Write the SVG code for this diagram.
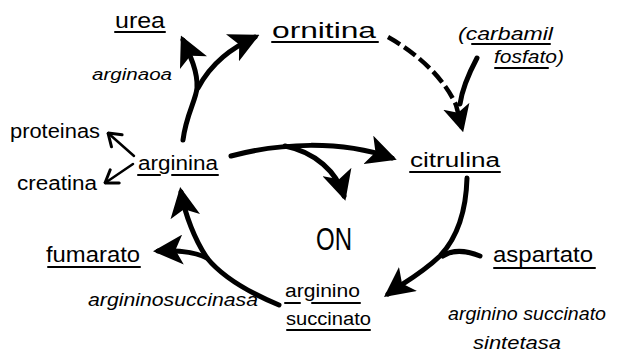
<svg xmlns="http://www.w3.org/2000/svg" width="623" height="355" viewBox="0 0 623 355">
<style>
.t{font-family:"Liberation Sans",Arial,sans-serif;fill:#000}
.i{font-style:italic}
.u{stroke:#000;stroke-width:2;fill:none;stroke-linecap:round}
.c{stroke:#000;stroke-width:5;fill:none;stroke-linecap:round}
.s{stroke:#000;stroke-width:2.5;fill:none;stroke-linecap:round}
.d{stroke:#000;stroke-width:4.5;fill:none;stroke-dasharray:14 5}
</style>
<defs>
<marker id="ah" markerWidth="6" markerHeight="6" refX="5" refY="3" orient="auto" markerUnits="strokeWidth" viewBox="0 0 6 6">
<path d="M0,0 L6,3 L0,6 L1.5,3 z" fill="#000"/>
</marker>
<marker id="ahs" markerWidth="6" markerHeight="8" refX="5.5" refY="4" orient="auto" markerUnits="strokeWidth" viewBox="0 0 6 8">
<path d="M0.8,0.8 L5.5,4 L0.8,7.2" fill="none" stroke="#000" stroke-width="1.2" stroke-linecap="round" stroke-linejoin="round"/>
</marker>
</defs>
<g id="connectors">
<path class="c" d="M183,140 C186,115 196,100 197,88 C198,72 190,55 183,40" marker-end="url(#ah)"/>
<path class="c" d="M198,88 C212,62 232,48 255,37" marker-end="url(#ah)"/>
<path class="d" d="M388,37 C420,55 445,80 456,105 L462,128" marker-end="url(#ah)"/>
<path class="c" d="M477,58 C468,75 462,90 460,104"/>
<path class="c" d="M231,156 C280,143 340,140 392,158" marker-end="url(#ah)"/>
<path class="c" d="M285,146 C315,152 337,172 344,196" marker-end="url(#ah)"/>
<path class="c" d="M467,178 C466,215 455,240 440,256 C420,275 400,285 388,294" marker-end="url(#ah)"/>
<path class="c" d="M480,256 C465,250 452,250 443,256"/>
<path class="c" d="M279,305 C255,295 225,280 207,258 C195,240 185,215 181,192" marker-end="url(#ah)"/>
<path class="c" d="M207,258 C195,252 176,250 158,251" marker-end="url(#ah)"/>
<path class="s" d="M134,156 L108,133" marker-end="url(#ahs)"/>
<path class="s" d="M133,164 L105,183" marker-end="url(#ahs)"/>
</g>
<g id="urea"><text class="t" x="115" y="28" font-size="22" textLength="50" lengthAdjust="spacingAndGlyphs">urea</text><line class="u" x1="115" y1="32" x2="165" y2="32"/></g>
<g id="ornitina"><text class="t" x="272" y="38" font-size="22" textLength="104" lengthAdjust="spacingAndGlyphs">ornitina</text><line class="u" x1="272" y1="42" x2="378" y2="42"/></g>
<g id="carbamil"><text class="t i" x="458" y="40" font-size="18" textLength="95" lengthAdjust="spacingAndGlyphs">(carbamil</text><line class="u" x1="472" y1="44" x2="550" y2="44"/><text class="t i" x="494" y="63" font-size="18" textLength="70" lengthAdjust="spacingAndGlyphs">fosfato)</text><line class="u" x1="495" y1="68" x2="548" y2="68"/></g>
<g id="arginaoa"><text class="t i" x="92" y="80" font-size="16" textLength="80" lengthAdjust="spacingAndGlyphs">arginaoa</text></g>
<g id="proteinas"><text class="t" x="10" y="138" font-size="20" textLength="90" lengthAdjust="spacingAndGlyphs">proteinas</text></g>
<g id="arginina"><text class="t" x="138" y="170" font-size="20" textLength="80" lengthAdjust="spacingAndGlyphs">arginina</text><line class="u" x1="138" y1="175" x2="160" y2="175"/><line class="u" x1="172" y1="175" x2="218" y2="175"/></g>
<g id="creatina"><text class="t" x="17" y="190" font-size="20" textLength="80" lengthAdjust="spacingAndGlyphs">creatina</text></g>
<g id="citrulina"><text class="t" x="410" y="167" font-size="20" textLength="90" lengthAdjust="spacingAndGlyphs">citrulina</text><line class="u" x1="410" y1="172" x2="500" y2="172"/></g>
<g id="ON"><text class="t" x="316" y="250" font-size="32" textLength="36" lengthAdjust="spacingAndGlyphs">ON</text></g>
<g id="fumarato"><text class="t" x="46" y="262" font-size="22" textLength="94" lengthAdjust="spacingAndGlyphs">fumarato</text><line class="u" x1="48" y1="267" x2="140" y2="267"/></g>
<g id="aspartato"><text class="t" x="493" y="262" font-size="22" textLength="100" lengthAdjust="spacingAndGlyphs">aspartato</text><line class="u" x1="494" y1="268" x2="595" y2="268"/></g>
<g id="argininosuccinasa"><text class="t i" x="88" y="306" font-size="18" textLength="170" lengthAdjust="spacingAndGlyphs">argininosuccinasa</text></g>
<g id="arginino-succinato"><text class="t" x="285" y="297" font-size="18" textLength="75" lengthAdjust="spacingAndGlyphs">arginino</text><line class="u" x1="285" y1="303" x2="300" y2="303"/><line class="u" x1="312" y1="303" x2="360" y2="303"/><text class="t" x="286" y="325" font-size="18" textLength="85" lengthAdjust="spacingAndGlyphs">succinato</text><line class="u" x1="287" y1="330" x2="370" y2="330"/></g>
<g id="sintetasa"><text class="t i" x="448" y="320" font-size="18" textLength="158" lengthAdjust="spacingAndGlyphs">arginino succinato</text><text class="t i" x="473" y="349" font-size="18" textLength="88" lengthAdjust="spacingAndGlyphs">sintetasa</text></g>
</svg>
